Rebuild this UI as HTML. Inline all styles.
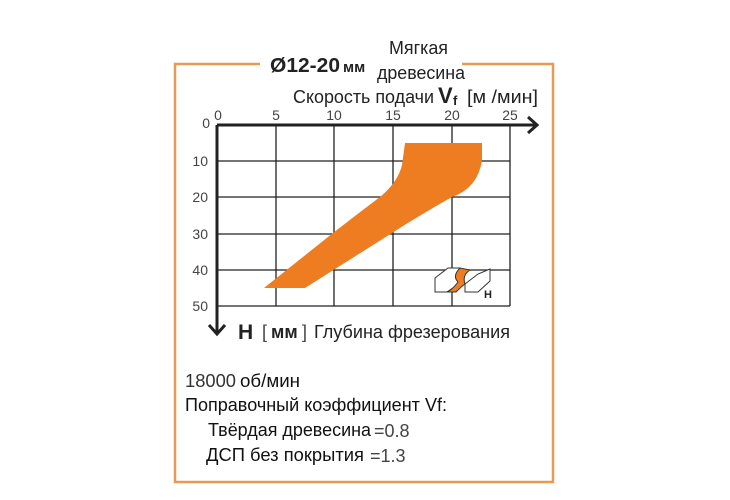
<!DOCTYPE html>
<html><head><meta charset="utf-8"><style>
body{margin:0;background:#fff;width:730px;height:500px;overflow:hidden;font-family:"Liberation Sans","Noto Sans CJK SC",sans-serif}
svg{position:absolute;left:0;top:0}
</style></head><body>
<svg width="730" height="500" viewBox="0 0 730 500" font-family="Liberation Sans, sans-serif">
<path d="M260 64 H175 V482 H553 V64 H462" fill="none" stroke="#e89a55" stroke-width="2.5"/>
<text x="270" y="72" font-size="20" font-weight="bold" fill="#222" textLength="70" lengthAdjust="spacingAndGlyphs">Ø12-20</text>
<text x="343" y="72" font-size="15" font-weight="bold" fill="#222">мм</text>
<text x="389" y="54" font-size="18" fill="#222" textLength="59" lengthAdjust="spacingAndGlyphs">Мягкая</text>
<text x="377" y="79" font-size="18" fill="#222" textLength="88" lengthAdjust="spacingAndGlyphs">древесина</text>
<text x="293" y="103" font-size="18" fill="#222" textLength="141" lengthAdjust="spacingAndGlyphs">Скорость подачи</text>
<text x="438" y="103" font-size="22" font-weight="bold" fill="#222">V</text>
<text x="453" y="105" font-size="13" font-weight="bold" fill="#222">f</text>
<text x="467" y="103" font-size="18" fill="#222" textLength="71" lengthAdjust="spacingAndGlyphs">[м /мин]</text>
<g stroke="#222" stroke-width="1.3">
<line x1="276" y1="125" x2="276" y2="306"/><line x1="334" y1="125" x2="334" y2="306"/>
<line x1="393" y1="125" x2="393" y2="306"/><line x1="452" y1="125" x2="452" y2="306"/>
<line x1="510" y1="125" x2="510" y2="306"/>
<line x1="217" y1="161" x2="510" y2="161"/><line x1="217" y1="197" x2="510" y2="197"/>
<line x1="217" y1="234" x2="510" y2="234"/><line x1="217" y1="270" x2="510" y2="270"/>
<line x1="217" y1="306" x2="510" y2="306"/>
</g>
<path d="M405 143 H482 V160 Q478 188 452 197 Q420 215 392 233 L305 288 H264 L333 233 Q360 212 380 197 Q398 182 402 165 Z" fill="#ee7d22"/>
<g stroke="#222" stroke-width="3" fill="none">
<line x1="217" y1="125" x2="535" y2="125"/><path d="M528 117 L537 125 L528 133"/>
<line x1="217" y1="125" x2="217" y2="332"/><path d="M209 325 L217 334 L225 325"/>
</g>
<g font-size="14" fill="#444" text-anchor="middle">
<text x="218" y="120">0</text><text x="276" y="120">5</text><text x="334" y="120">10</text>
<text x="393" y="120">15</text><text x="452" y="120">20</text><text x="510" y="120">25</text>
</g>
<g font-size="14" fill="#444" text-anchor="end">
<text x="210" y="128">0</text><text x="208" y="166">10</text><text x="208" y="202">20</text>
<text x="208" y="239">30</text><text x="208" y="275">40</text><text x="208" y="311">50</text>
</g>
<g stroke="#333" stroke-width="1" fill="#fff">
<path d="M435 278 L448 268 L460 268 L460 283 L447 292 L435 292 Z"/>
<path d="M465 284 L478 274 L490 269 L490 281 L478 292 L465 292 Z"/>
<path d="M460 268 Q452 276 458 282 Q452 290 447 292 L456 292 Q462 286 465 284 Q462 275 470 270 Z" fill="#ee7d22"/>
</g>
<text x="484" y="298" font-size="11" font-weight="bold" fill="#222">H</text>
<text x="238" y="339" font-size="21" font-weight="bold" fill="#222">H</text>
<text x="262" y="338" font-size="18" fill="#444">[</text>
<text x="271" y="338" font-size="18" font-weight="bold" fill="#222">мм</text>
<text x="302" y="338" font-size="18" fill="#444">]</text>
<text x="314" y="338" font-size="18" fill="#222" textLength="196" lengthAdjust="spacingAndGlyphs">Глубина фрезерования</text>
<text x="185" y="387" font-size="18" fill="#333" textLength="51" lengthAdjust="spacingAndGlyphs">18000</text>
<text x="240" y="387" font-size="18" fill="#111" textLength="60" lengthAdjust="spacingAndGlyphs">об/мин</text>
<text x="185" y="411" font-size="18" fill="#111" textLength="262" lengthAdjust="spacingAndGlyphs">Поправочный коэффициент Vf:</text>
<text x="208" y="436" font-size="18" fill="#111" textLength="163" lengthAdjust="spacingAndGlyphs">Твёрдая древесина</text>
<text x="374" y="437" font-size="18" fill="#444">=0.8</text>
<text x="206" y="461" font-size="18" fill="#111" textLength="158" lengthAdjust="spacingAndGlyphs">ДСП без покрытия</text>
<text x="370" y="462" font-size="18" fill="#444">=1.3</text>
</svg>
</body></html>
